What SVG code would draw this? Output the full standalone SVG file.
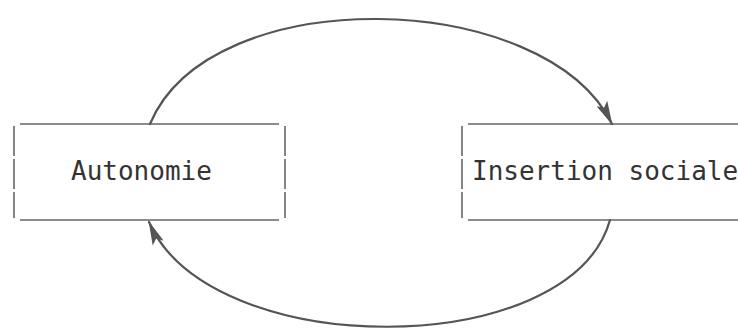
<svg xmlns="http://www.w3.org/2000/svg" width="738" height="329" viewBox="0 0 738 329">
<style>
.edge{fill:none;stroke:#555;stroke-width:2.2;stroke-linecap:round}
.bx{stroke:#666;stroke-width:1.6;fill:none}
.lbl{font-family:"DejaVu Sans Mono","Liberation Mono",monospace;font-size:26px;fill:#333}
</style>
<defs>
<marker id="ah2" viewBox="0 0 24 12" refX="23" refY="6" markerWidth="24" markerHeight="12" markerUnits="userSpaceOnUse" orient="auto">
<path d="M0,0 L24,6 L0,12 L5,6 Z" fill="#555"/>
</marker>
</defs>
<rect width="738" height="329" fill="#fff"/>
<g id="autonomie">
<line class="bx" x1="20" y1="124" x2="279" y2="124"/>
<line class="bx" x1="20" y1="220" x2="279" y2="220"/>
<line class="bx" x1="14" y1="126" x2="14" y2="218" stroke-dasharray="30 3"/>
<line class="bx" x1="285" y1="126" x2="285" y2="218" stroke-dasharray="30 3"/>
<text class="lbl" x="71" y="180">Autonomie</text>
</g>
<g id="insertion">
<line class="bx" x1="468" y1="124" x2="738" y2="124"/>
<line class="bx" x1="468" y1="220" x2="738" y2="220"/>
<line class="bx" x1="462" y1="126" x2="462" y2="218" stroke-dasharray="30 3"/>
<text class="lbl" x="472" y="180">Insertion sociale</text>
</g>
<g id="connectors">
<path class="edge" d="M150,124 C210,-20 545,-12 612,124" marker-end="url(#ah2)"/>
<path class="edge" d="M610,220 C570,362 210,362 149,222" marker-end="url(#ah2)"/>
</g>
</svg>
